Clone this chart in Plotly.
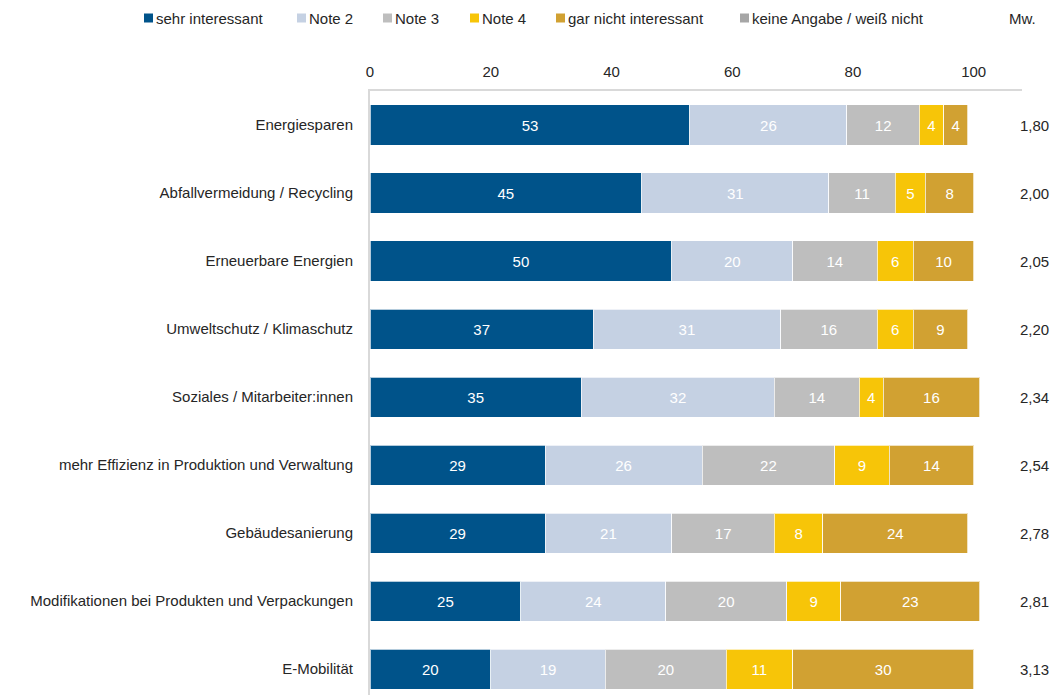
import plotly.graph_objects as go

# Survey topics (top to bottom)
categories = [
    "Energiesparen",
    "Abfallvermeidung / Recycling",
    "Erneuerbare Energien",
    "Umweltschutz / Klimaschutz",
    "Soziales / Mitarbeiter:innen",
    "mehr Effizienz in Produktion und Verwaltung",
    "Gebäudesanierung",
    "Modifikationen bei Produkten und Verpackungen",
    "E-Mobilität",
]

# Shares in percent per rating
sehr_interessant = [53, 45, 50, 37, 35, 29, 29, 25, 20]
note_2 = [26, 31, 20, 31, 32, 26, 21, 24, 19]
note_3 = [12, 11, 14, 16, 14, 22, 17, 20, 20]
note_4 = [4, 5, 6, 6, 4, 9, 8, 9, 11]
gar_nicht = [4, 8, 10, 9, 16, 14, 24, 23, 30]
keine_angabe = [0, 0, 0, 0, 0, 0, 0, 0, 0]

# Mean rating (Mw.)
mittelwert = ["1,80", "2,00", "2,05", "2,20", "2,34", "2,54", "2,78", "2,81", "3,13"]

x_ticks = [0, 20, 40, 60, 80, 100]

series = [
    ("sehr interessant", sehr_interessant, "#00538A"),
    ("Note 2", note_2, "#C5D1E3"),
    ("Note 3", note_3, "#BEBEBE"),
    ("Note 4", note_4, "#F7C508"),
    ("gar nicht interessant", gar_nicht, "#D1A132"),
    ("keine Angabe / weiß nicht", keine_angabe, "#A6A6A6"),
]

FONT = "Liberation Sans, Arial, sans-serif"
TEXT = "#262626"
W, H = 1053, 695
ML, MR, MT, MB = 370, 31, 91, 0
PW, PH = W - ML - MR, H - MT - MB

ypos = list(range(len(categories)))


def px_to_paper_x(px):
    return (px - ML) / PW


def px_to_paper_y(py):
    return (H - MB - py) / PH


fig = go.Figure()
for name, vals, color in series:
    empty = all(v == 0 for v in vals)
    fig.add_trace(go.Bar(
        name=name,
        y=ypos,
        x=vals,
        orientation="h",
        width=0.59,
        marker=dict(color=color,
                    line=dict(color="rgba(255,255,255,0.7)", width=0 if empty else 1)),
        text=["" if empty else str(v) for v in vals],
        textposition="inside",
        insidetextanchor="middle",
        textangle=0,
        textfont=dict(color="white", size=15, family=FONT),
        hoverinfo="x+name",
        showlegend=False,
    ))

# Legend row across the top: small colour square followed by its label
legend_left = [144, 297, 383, 470, 556, 740]
legend_cy = 18
for (name, _, color), lx in zip(series, legend_left):
    fig.add_shape(
        type="rect", xref="paper", yref="paper",
        x0=px_to_paper_x(lx), x1=px_to_paper_x(lx + 9),
        y0=px_to_paper_y(legend_cy + 4.5), y1=px_to_paper_y(legend_cy - 4.5),
        fillcolor=color, line=dict(width=0),
    )
    fig.add_annotation(
        x=px_to_paper_x(lx + 10), xref="paper",
        y=px_to_paper_y(legend_cy), yref="paper",
        text=name, showarrow=False, xanchor="left", yanchor="middle",
        font=dict(size=15, color=TEXT, family=FONT),
    )

# Mean value column on the right
for i, mw in enumerate(mittelwert):
    fig.add_annotation(
        x=1, xref="paper", y=i, yref="y",
        text=mw, showarrow=False, xanchor="center", xshift=12,
        font=dict(size=15, color=TEXT, family=FONT),
    )
fig.add_annotation(
    x=1, xref="paper", y=px_to_paper_y(legend_cy), yref="paper",
    text="Mw.", showarrow=False, xanchor="center", yanchor="middle",
    font=dict(size=15, color=TEXT, family=FONT),
)

fig.update_layout(
    width=W, height=H,
    barmode="stack",
    plot_bgcolor="white", paper_bgcolor="white",
    margin=dict(l=ML, r=MR, t=MT, b=MB),
    font=dict(family=FONT, size=15, color=TEXT),
    showlegend=False,
    xaxis=dict(
        side="top",
        range=[0, 108],
        tickvals=x_ticks,
        ticktext=[str(t) for t in x_ticks],
        showgrid=False, zeroline=False,
        showline=True, linecolor="#D9D9D9", linewidth=2,
        ticks="", ticklabelstandoff=6,
        tickfont=dict(size=15, color=TEXT, family=FONT),
        fixedrange=True,
    ),
    yaxis=dict(
        range=[8.38, -0.5],
        tickvals=ypos,
        ticktext=categories,
        showgrid=False, zeroline=False,
        showline=True, linecolor="#D9D9D9", linewidth=2,
        ticks="", ticklabelstandoff=12,
        tickfont=dict(size=15, color=TEXT, family=FONT),
        fixedrange=True,
    ),
)

fig.write_html("out.html")
